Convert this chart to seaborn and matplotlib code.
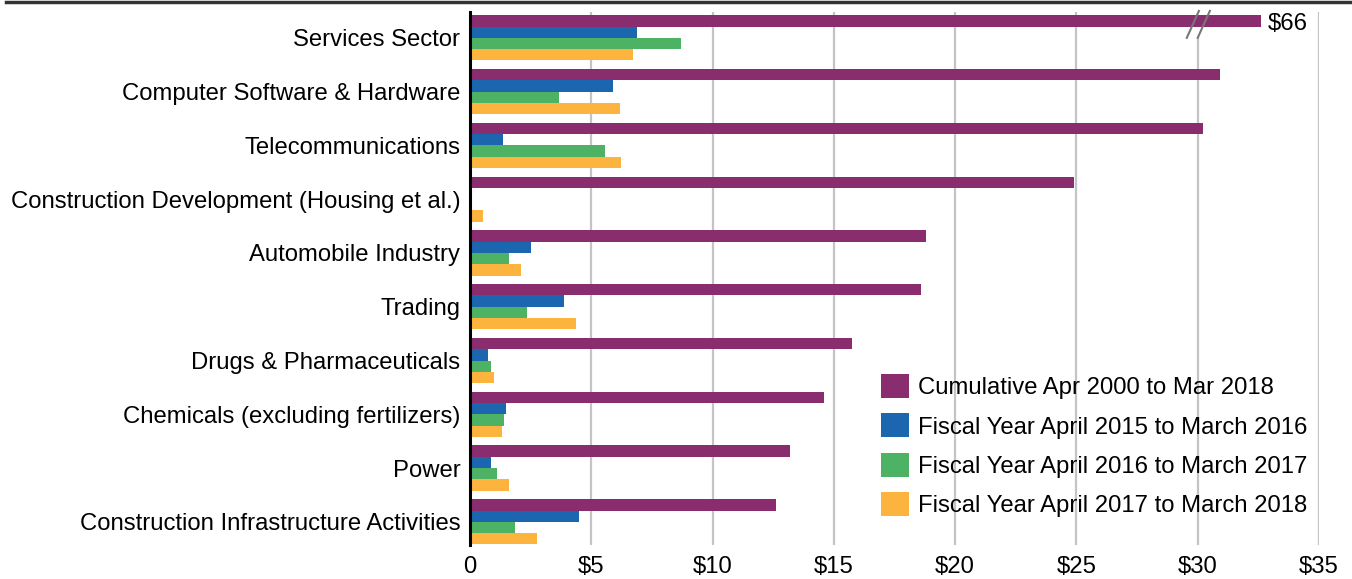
import numpy as np
import pandas as pd
import matplotlib
matplotlib.use("Agg")
import matplotlib.pyplot as plt
from matplotlib.lines import Line2D
from matplotlib.patches import Polygon
import seaborn as sns

industries = [
    "Services Sector",
    "Computer Software & Hardware",
    "Telecommunications",
    "Construction Development (Housing et al.)",
    "Automobile Industry",
    "Trading",
    "Drugs & Pharmaceuticals",
    "Chemicals (excluding fertilizers)",
    "Power",
    "Construction Infrastructure Activities",
]
periods = [
    "Cumulative Apr 2000 to Mar 2018",
    "Fiscal Year April 2015 to March 2016",
    "Fiscal Year April 2016 to March 2017",
    "Fiscal Year April 2017 to March 2018",
]
cumulative = [66, 30.9, 30.2, 24.9, 18.8, 18.6, 15.75, 14.6, 13.2, 12.6]
fy2016 = [6.9, 5.9, 1.35, 0.1, 2.5, 3.87, 0.74, 1.48, 0.87, 4.5]
fy2017 = [8.7, 3.67, 5.57, 0.1, 1.6, 2.36, 0.87, 1.40, 1.1, 1.86]
fy2018 = [6.7, 6.2, 6.24, 0.55, 2.1, 4.37, 0.99, 1.32, 1.6, 2.75]
colors = ["#8a2d6f", "#1c66b0", "#4eb265", "#fdb43f"]
x_ticks = [0, 5, 10, 15, 20, 25, 30, 35]
x_tick_labels = ["0", "$5", "$10", "$15", "$20", "$25", "$30", "$35"]

# bars longer than this are drawn broken
break_at = 30
bar_cap = 32.6

rows = []
for series, name in zip([cumulative, fy2016, fy2017, fy2018], periods):
    for ind, v in zip(industries, series):
        rows.append({"industry": ind, "period": name, "value": v,
                     "shown": min(v, bar_cap)})
df = pd.DataFrame(rows)

fs = 17.2
plt.rcParams["font.family"] = ["Liberation Sans", "DejaVu Sans"]
fig = plt.figure(figsize=(13.52, 5.79), dpi=100)
ax = fig.add_axes([470 / 1352, 34 / 579, 849 / 1352, 533 / 579])

sns.barplot(data=df, x="shown", y="industry", hue="period", palette=colors,
            orient="h", width=0.84, saturation=1, errorbar=None,
            linewidth=0, ax=ax, zorder=3)

ax.set_xlim(0, 35)
ax.set_ylim(len(industries) - 1 + 0.43, -0.48)
ax.set_xticks(x_ticks)
ax.set_xticklabels(x_tick_labels)
ax.set_xlabel("")
ax.set_ylabel("")
ax.tick_params(axis="both", length=0, labelsize=fs, colors="black")
ax.tick_params(axis="y", pad=7)
ax.tick_params(axis="x", pad=8)
for lab in ax.get_yticklabels():
    lab.set_verticalalignment("center_baseline")
ax.grid(axis="x", color="#c4c4c4", linewidth=1.6, zorder=0)
ax.set_axisbelow(True)
for s in ["top", "right", "bottom"]:
    ax.spines[s].set_visible(False)
ax.spines["left"].set_color("black")
ax.spines["left"].set_linewidth(2.2)
ax.spines["left"].set_zorder(5)

# break marker on the long bar + its true value
over = [i for i, v in enumerate(cumulative) if v > bar_cap]
for i in over:
    yc = i
    ax.add_patch(Polygon([[break_at - 0.45, yc], [break_at + 0.05, yc - 0.55],
                          [break_at + 0.55, yc - 0.55], [break_at, yc]],
                         closed=True, facecolor="white", edgecolor="none",
                         zorder=2, clip_on=False))
    for dx in (0, 0.45):
        ax.add_line(Line2D([break_at - 0.45 + dx, break_at + 0.05 + dx],
                           [yc, yc - 0.5], color="#777777", lw=1.5,
                           zorder=6, clip_on=False))
    ax.text(bar_cap + 0.3, i - 0.3075, f"${cumulative[i]:.0f}", fontsize=fs,
            va="center_baseline", ha="left", color="black")

ax.legend(loc="upper left", bbox_to_anchor=(881 / 1352, 1 - 374 / 579),
          bbox_transform=fig.transFigure, frameon=False, fontsize=fs,
          handlelength=1.17, handleheight=1.17, labelspacing=0.6,
          handletextpad=0.38, borderpad=0, borderaxespad=0)

fig.add_artist(Line2D([6 / 1352, 1], [1 - 1.5 / 579, 1 - 1.5 / 579],
                      transform=fig.transFigure, color="#333333", lw=2.5))

fig.savefig("out.png", dpi=100)
